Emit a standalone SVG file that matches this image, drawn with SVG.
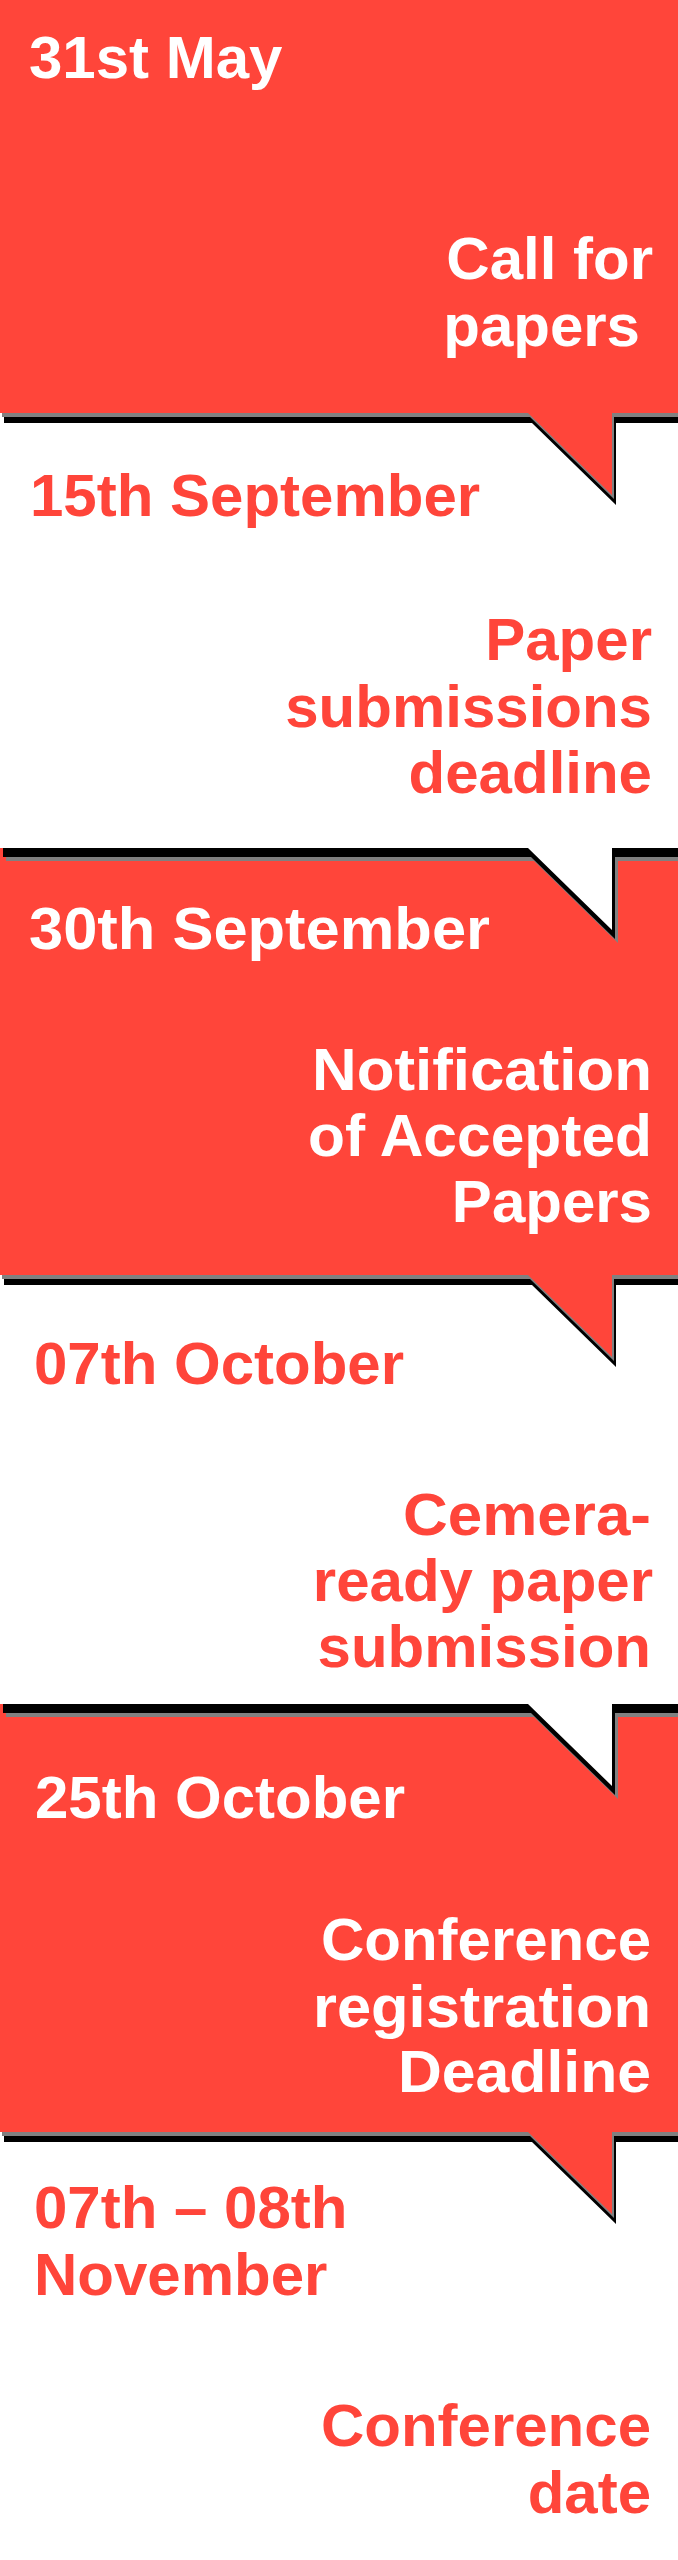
<svg xmlns="http://www.w3.org/2000/svg" xmlns:xlink="http://www.w3.org/1999/xlink" width="678" height="2560" viewBox="0 0 678 2560">
<style>
  .t { font-family: "Liberation Sans", Arial, sans-serif; font-weight: 700; font-size: 60px; }
  .w { fill: #ffffff; }
  .r { fill: #ff453a; }
  .red { fill: #ff453a; }
  .blk { fill: #000000; }
  .gry { fill: #808080; }
  .wht { fill: #ffffff; }
  .end { text-anchor: end; }
</style>
<defs>
  <path id="p1" d="M0 0 H678 V413 H612 V495 L528 413 H0 Z"/>
  <path id="p3" d="M0 848 H678 V1275 H612 V1357 L528 1275 H0 Z"/>
  <path id="p5" d="M0 1704 H678 V2132 H612 V2214 L528 2132 H0 Z"/>
  <path id="p2" d="M0 828 H678 V848 H612 V930 L528 848 H0 Z"/>
  <path id="p4" d="M0 1684 H678 V1704 H612 V1786 L528 1704 H0 Z"/>
</defs>
<rect x="0" y="0" width="678" height="2560" fill="#ffffff"/>

<g id="call-for-papers">
  <use xlink:href="#p1" class="blk" transform="translate(4,10)"/>
  <use xlink:href="#p1" class="gry" transform="translate(2,4)"/>
  <use xlink:href="#p1" class="red"/>
  <text class="t w" x="29" y="78">31st May</text>
  <text class="t w end" x="653" y="279">Call for</text>
  <text class="t w end" x="640" y="346">papers</text>
</g>

<g id="notification">
  <use xlink:href="#p3" class="blk" transform="translate(4,10)"/>
  <use xlink:href="#p3" class="gry" transform="translate(2,4)"/>
  <use xlink:href="#p3" class="red"/>
  <text class="t w" x="29" y="949" textLength="461" lengthAdjust="spacingAndGlyphs">30th September</text>
  <text class="t w end" x="652" y="1090" textLength="340" lengthAdjust="spacingAndGlyphs">Notification</text>
  <text class="t w end" x="652" y="1156" textLength="344" lengthAdjust="spacingAndGlyphs">of Accepted</text>
  <text class="t w end" x="652" y="1222">Papers</text>
</g>

<g id="registration">
  <use xlink:href="#p5" class="blk" transform="translate(4,10)"/>
  <use xlink:href="#p5" class="gry" transform="translate(2,4)"/>
  <use xlink:href="#p5" class="red"/>
  <text class="t w" x="35" y="1818">25th October</text>
  <text class="t w end" x="651" y="1960">Conference</text>
  <text class="t w end" x="651" y="2027" textLength="338" lengthAdjust="spacingAndGlyphs">registration</text>
  <text class="t w end" x="651" y="2092" textLength="253" lengthAdjust="spacingAndGlyphs">Deadline</text>
</g>

<g id="submission-deadline">
  <use xlink:href="#p2" class="gry" transform="translate(6,13)"/>
  <use xlink:href="#p2" class="blk" transform="translate(3,9)"/>
  <use xlink:href="#p2" class="wht"/>
  <text class="t r" x="30" y="516">15th September</text>
  <text class="t r end" x="652" y="660">Paper</text>
  <text class="t r end" x="652" y="727">submissions</text>
  <text class="t r end" x="652" y="793">deadline</text>
</g>

<g id="camera-ready">
  <use xlink:href="#p4" class="gry" transform="translate(6,13)"/>
  <use xlink:href="#p4" class="blk" transform="translate(3,9)"/>
  <use xlink:href="#p4" class="wht"/>
  <text class="t r" x="34" y="1384">07th October</text>
  <text class="t r end" x="651" y="1535" textLength="248" lengthAdjust="spacingAndGlyphs">Cemera-</text>
  <text class="t r end" x="653" y="1601">ready paper</text>
  <text class="t r end" x="651" y="1667">submission</text>
</g>

<g id="conference-date">
  <text class="t r" x="34" y="2228">07th – 08th</text>
  <text class="t r" x="34" y="2295">November</text>
  <text class="t r end" x="651" y="2446">Conference</text>
  <text class="t r end" x="651" y="2513">date</text>
</g>
</svg>
